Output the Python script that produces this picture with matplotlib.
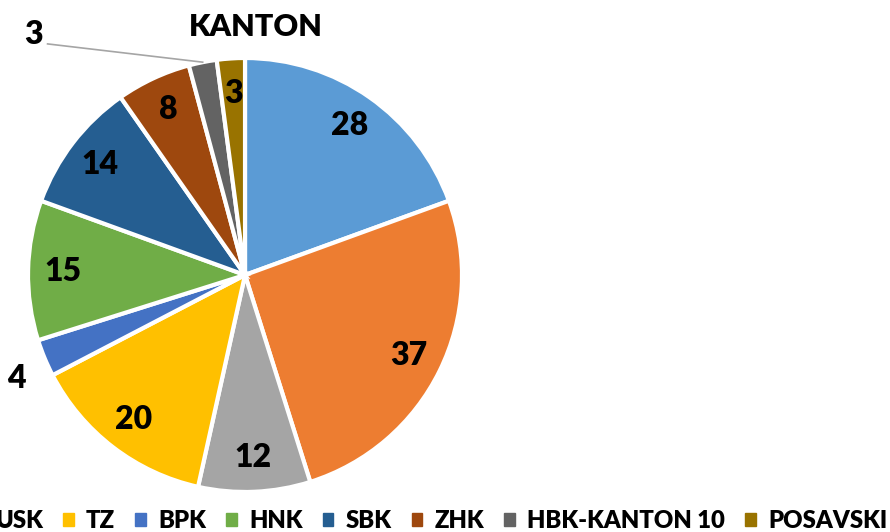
import matplotlib.pyplot as plt
import numpy as np

# data
cantons = ['KS', 'ZDK', 'USK', 'TZ', 'BPK', 'HNK', 'SBK', 'ZHK', 'HBK-KANTON 10', 'POSAVSKI']
counts = [28, 37, 12, 20, 4, 15, 14, 8, 3, 3]
colors = ['#5B9BD5', '#ED7D31', '#A5A5A5', '#FFC000', '#4472C4',
          '#70AD47', '#255E91', '#9E480E', '#636363', '#997300']

plt.rcParams['font.family'] = ['Lato', 'DejaVu Sans']
W = 'heavy'

fig = plt.figure(figsize=(8.9, 5.32), dpi=100)
ax = fig.add_axes([0.0315, 0.0752, 0.4876, 0.8158])

wedges, _ = ax.pie(counts, colors=colors, startangle=90, counterclock=False,
                   radius=1, wedgeprops=dict(edgecolor='white', linewidth=3))

# labels inside slices, small ones outside
for i, (w, v) in enumerate(zip(wedges, counts)):
    mid = np.deg2rad((w.theta1 + w.theta2) / 2)
    if cantons[i] == 'BPK':
        r = 1.14
        ax.text(r * np.cos(mid), r * np.sin(mid) - 0.04, str(v), ha='center', va='center',
                fontsize=23, fontweight=W)
    elif cantons[i] == 'HBK-KANTON 10':
        ex, ey = np.cos(mid), np.sin(mid)
        lx, ly = -0.91, 1.065
        ax.plot([ex, lx], [ey, ly], color='#A5A5A5', lw=1.2, clip_on=False)
        ax.text(lx - 0.02, ly + 0.045, str(v), ha='right', va='center',
                fontsize=23, fontweight=W)
    else:
        r = 0.84
        ax.text(r * np.cos(mid), r * np.sin(mid), str(v), ha='center', va='center',
                fontsize=23, fontweight=W)

ax.set_xlim(-1, 1)
ax.set_ylim(-1, 1)
ax.set_aspect('equal')

fig.text(256 / 890, 1 - 27 / 532, 'KANTON', ha='center', va='center',
         fontsize=22, fontweight=W)

handles = [plt.Rectangle((0, 0), 1, 1, color=c) for c in colors]
fig.legend(handles, cantons, loc='lower right', bbox_to_anchor=(887 / 890, 0.0),
           ncol=len(cantons), frameon=False, handlelength=0.45,
           handleheight=0.45, handletextpad=0.5, columnspacing=0.85,
           borderpad=0, borderaxespad=0,
           prop=dict(weight=W, size=17.2))

fig.savefig('out.png', dpi=100)
